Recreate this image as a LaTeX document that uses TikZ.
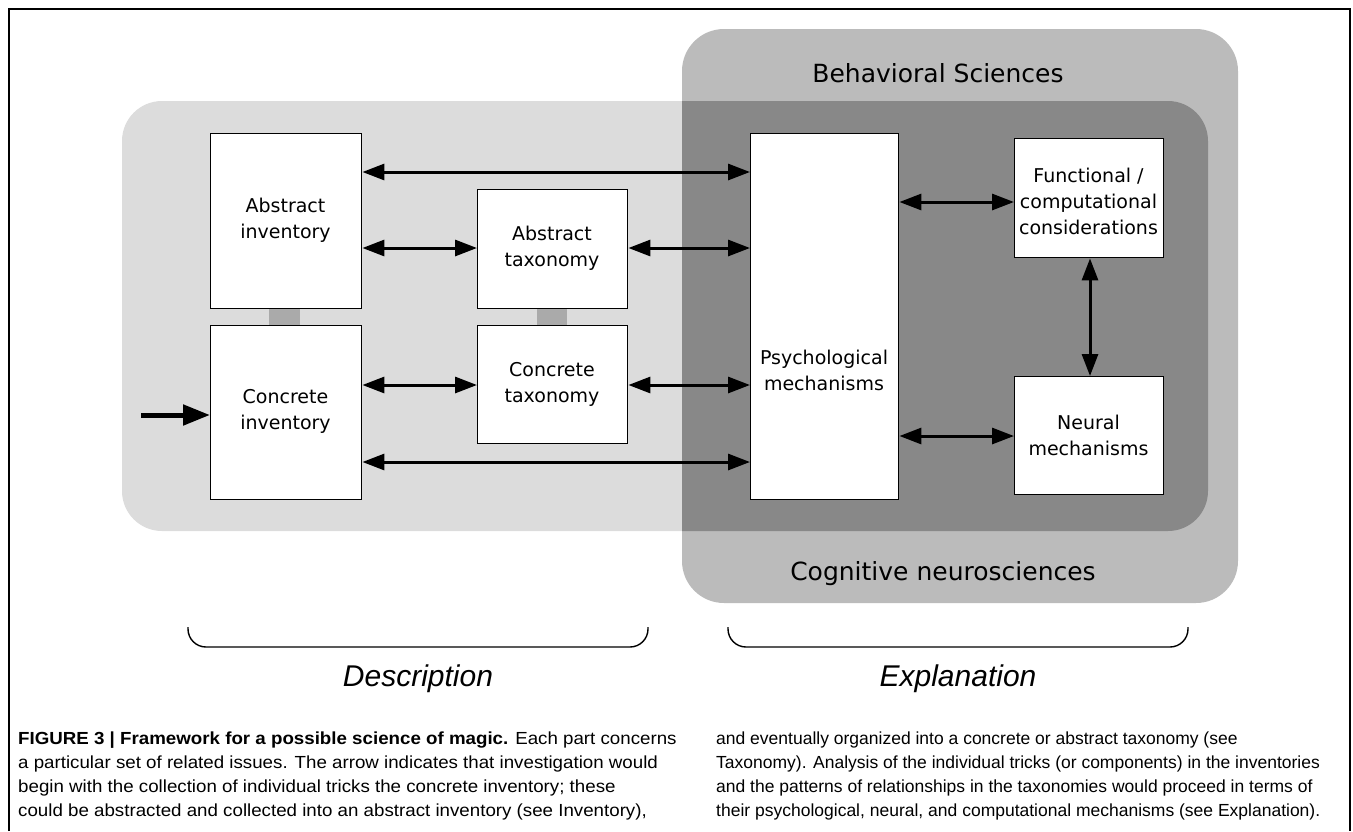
\documentclass[tikz,border=0pt]{standalone}
\usepackage{fontspec}
\setmainfont{DejaVu Sans}
\newfontfamily\capfont{Liberation Sans}
\newfontfamily\capfontwide[FakeStretch=1.07]{Liberation Sans}
\usetikzlibrary{arrows.meta}
\definecolor{lightbg}{HTML}{DCDCDC}
\definecolor{midbg}{HTML}{BBBBBB}
\definecolor{darkbg}{HTML}{888888}
\definecolor{linkgray}{HTML}{AAAAAA}
\begin{document}
\begin{tikzpicture}[x=1pt,y=-1pt,
  box/.style={draw=black, line width=1.4pt, fill=white, inner sep=0pt, anchor=north west},
  lbl/.style={font=\fontsize{19}{26}\selectfont, align=center, inner sep=0pt},
  region/.style={font=\fontsize{25}{30}\selectfont, inner sep=0pt, anchor=base},
  part/.style={font=\capfont\itshape\fontsize{30}{34}\selectfont, inner sep=0pt, anchor=base},
  capleft/.style={font=\capfontwide\fontsize{17.5}{24}\selectfont, inner sep=0pt, anchor=base west},
  capright/.style={font=\capfont\fontsize{17.5}{24}\selectfont, inner sep=0pt, anchor=base west},
  dbl/.style={line width=3pt, {Triangle[length=22pt,width=16pt]}-{Triangle[length=22pt,width=16pt]}},
  brace/.style={line width=1.4pt, rounded corners=18pt}
]
\useasboundingbox (0,0) rectangle (1353,831);
% outer frame
\draw[line width=1.2pt] (9,831) -- (9,9) -- (1350,9) -- (1350,831);
% regions
\fill[lightbg, rounded corners=40pt] (122,101) rectangle (1208,531);
\fill[midbg, rounded corners=42pt] (682,29) rectangle (1238,603);
\begin{scope}
  \clip (682,29) rectangle (1238,603);
  \fill[darkbg, rounded corners=40pt] (122,101) rectangle (1208,531);
\end{scope}
\node[region] (beh) at (938,82) {Behavioral Sciences};
\node[region] (cog) at (943,580) {Cognitive neurosciences};
% connector bars
\fill[linkgray] (269,307) rectangle (300,326);
\fill[linkgray] (537,307) rectangle (567,326);
% boxes
\node[box, minimum width=151pt, minimum height=175pt] (ainv) at (210,133) {};
\node[box, minimum width=151pt, minimum height=174pt] (cinv) at (210,325) {};
\node[box, minimum width=150pt, minimum height=119pt] (atax) at (477,189) {};
\node[box, minimum width=150pt, minimum height=118pt] (ctax) at (477,325) {};
\node[box, minimum width=148pt, minimum height=366pt] (psy) at (750,133) {};
\node[box, minimum width=149pt, minimum height=119pt] (fun) at (1014,138) {};
\node[box, minimum width=149pt, minimum height=118pt] (neu) at (1014,376) {};
% labels
\node[lbl] (tainv) at (285.5,220) {Abstract\\inventory};
\node[lbl] (tcinv) at (285.5,411) {Concrete\\inventory};
\node[lbl] (tatax) at (552,248) {Abstract\\taxonomy};
\node[lbl] (tctax) at (552,384) {Concrete\\taxonomy};
\node[lbl] (tpsy) at (824,370) {Psychological\\mechanisms};
\node[lbl] (tfun) at (1088.5,201) {Functional /\\computational\\considerations};
\node[lbl] (tneu) at (1088.5,435) {Neural\\mechanisms};
% arrow rows
\path (0,172) coordinate (r1) (0,248) coordinate (r2) (0,385) coordinate (r3)
      (0,462) coordinate (r4) (0,202) coordinate (r5) (0,436) coordinate (r6)
      (141,415) coordinate (start) (1090,0) coordinate (cx);
\draw[dbl] (ainv.east|-r1) -- (psy.west|-r1);
\draw[dbl] (ainv.east|-r2) -- (atax.west|-r2);
\draw[dbl] (atax.east|-r2) -- (psy.west|-r2);
\draw[dbl] (cinv.east|-r3) -- (ctax.west|-r3);
\draw[dbl] (ctax.east|-r3) -- (psy.west|-r3);
\draw[dbl] (cinv.east|-r4) -- (psy.west|-r4);
\draw[dbl] (psy.east|-r5) -- (fun.west|-r5);
\draw[dbl] (psy.east|-r6) -- (neu.west|-r6);
\draw[dbl] (fun.south-|cx) -- (neu.north-|cx);
\draw[line width=5pt, -{Triangle[length=27pt,width=20pt]}] (start) -- (cinv.west|-start);
% braces
\path (188,627) coordinate (b1a) (188,647) coordinate (b1b) (648,647) coordinate (b1c) (648,627) coordinate (b1d)
      (728,627) coordinate (b2a) (728,647) coordinate (b2b) (1188,647) coordinate (b2c) (1188,627) coordinate (b2d);
\draw[brace] (b1a) -- (b1b) -- (b1c) -- (b1d);
\draw[brace] (b2a) -- (b2b) -- (b2c) -- (b2d);
\node[part] (desc) at (418,686) {Description};
\node[part] (expl) at (958,686) {Explanation};
% caption
\node[capleft] (c1) at (18,744) {\textbf{FIGURE 3 | Framework for a possible science of magic.} Each part concerns};
\node[capleft] (c2) at (18,768) {a particular set of related issues. The arrow indicates that investigation would};
\node[capleft] (c3) at (18,792) {begin with the collection of individual tricks the concrete inventory; these};
\node[capleft] (c4) at (18,816) {could be abstracted and collected into an abstract inventory (see Inventory),};
\node[capright] (c5) at (716,744) {and eventually organized into a concrete or abstract taxonomy (see};
\node[capright] (c6) at (716,768) {Taxonomy). Analysis of the individual tricks (or components) in the inventories};
\node[capright] (c7) at (716,792) {and the patterns of relationships in the taxonomies would proceed in terms of};
\node[capright] (c8) at (716,816) {their psychological, neural, and computational mechanisms (see Explanation).};
\end{tikzpicture}
\end{document}
